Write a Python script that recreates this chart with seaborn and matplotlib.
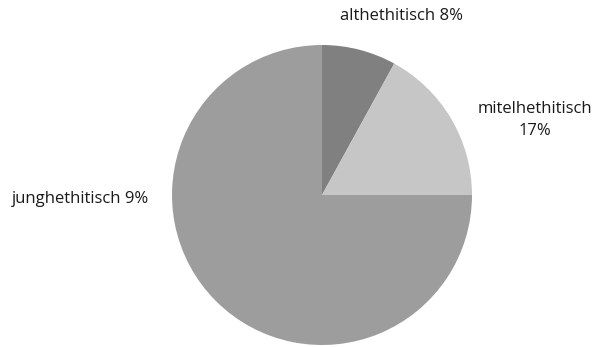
import matplotlib
matplotlib.use("Agg")
import matplotlib.pyplot as plt
import seaborn as sns

# slice data (clockwise from 12 o'clock)
shares = [8, 17, 75]
labels = ["althethitisch 8%", "mitelhethitisch\n17%", "junghethitisch 9%"]
colors = ["#808080", "#c6c6c6", "#9d9d9d"]
# label anchor points, in units of pie radius
label_pos = [(0.53, 1.19), (1.42, 0.50), (-1.61, -0.03)]

sns.set_theme(style="white")
plt.rcParams['font.family'] = ['Open Sans', 'DejaVu Sans']

fig = plt.figure(figsize=(6.01, 3.47), dpi=100)
ax = fig.add_axes([172 / 601, 2 / 347, 300 / 601, 300 / 347])
ax.pie(shares, colors=colors, startangle=90, counterclock=False,
       radius=1, wedgeprops=dict(linewidth=0))
ax.set_xlim(-1, 1)
ax.set_ylim(-1, 1)
ax.set_aspect("equal")
ax.axis("off")

for text, (x, y) in zip(labels, label_pos):
    ax.text(x, y, text, ha="center", va="center", fontsize=12,
            color="#1a1a1a", clip_on=False, linespacing=1.45)

fig.savefig("out.png", dpi=100)
